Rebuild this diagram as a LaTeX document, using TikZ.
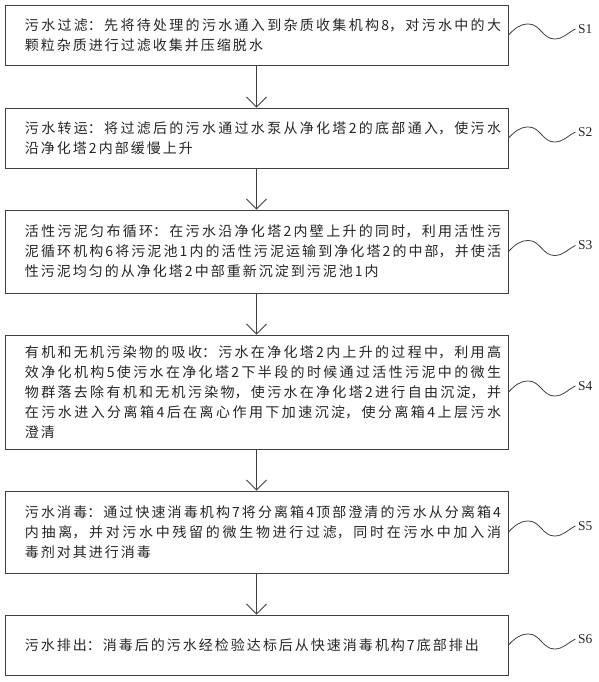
\documentclass[tikz,border=0pt]{standalone}
\usepackage{fontspec}
\setmainfont{Liberation Serif}
\newfontfamily\cjk{Noto Sans CJK SC}
\usetikzlibrary{arrows.meta}
\XeTeXlinebreaklocale "zh"
\XeTeXlinebreakskip=2pt plus 3pt minus 1pt
\begin{document}
\begin{tikzpicture}[x=1pt,y=1pt]
\tikzstyle{stepbox}=[draw=black!75, line width=0.9pt, text=black!85, font=\cjk\fontsize{14}{20}\selectfont, text width=489pt, align=justify, inner xsep=0pt, inner ysep=0pt, minimum width=503pt, execute at begin node={\leftskip=13pt\relax}]
\tikzstyle{tag}=[inner xsep=2.5pt, inner ysep=0pt, text=black!85, font=\fontsize{13.5}{16}\selectfont, anchor=west]
\tikzstyle{flow}=[draw=black!75, line width=0.8pt, -{Straight Barb[length=10pt,width=20pt]}]
\tikzstyle{wave}=[draw=black!75, line width=0.8pt]
\useasboundingbox (0,0) rectangle (599,-682);
\node [stepbox, minimum height=60pt] (s1) at (256.5,-35) {污水过滤：先将待处理的污水通入到杂质收集机构8，对污水中的大\linebreak 颗粒杂质进行过滤收集并压缩脱水};
\node [stepbox, minimum height=60pt] (s2) at (256.5,-138) {污水转运：将过滤后的污水通过水泵从净化塔2的底部通入，使污水\linebreak 沿净化塔2内部缓慢上升};
\node [stepbox, minimum height=83pt] (s3) at (256.5,-251.5) {活性污泥匀布循环：在污水沿净化塔2内壁上升的同时，利用活性污\linebreak 泥循环机构6将污泥池1内的活性污泥运输到净化塔2的中部，并使活\linebreak 性污泥均匀的从净化塔2中部重新沉淀到污泥池1内};
\node [stepbox, minimum height=114pt] (s4) at (256.5,-392) {有机和无机污染物的吸收：污水在净化塔2内上升的过程中，利用高\linebreak 效净化机构5使污水在净化塔2下半段的时候通过活性污泥中的微生\linebreak 物群落去除有机和无机污染物，使污水在净化塔2进行自由沉淀，并\linebreak 在污水进入分离箱4后在离心作用下加速沉淀，使分离箱4上层污水\linebreak 澄清};
\node [stepbox, minimum height=82pt] (s5) at (256.5,-532) {污水消毒：通过快速消毒机构7将分离箱4顶部澄清的污水从分离箱4\linebreak 内抽离，并对污水中残留的微生物进行过滤，同时在污水中加入消\linebreak 毒剂对其进行消毒};
\node [stepbox, minimum height=60pt] (s6) at (256.5,-645) {污水排出：消毒后的污水经检验达标后从快速消毒机构7底部排出};
\node [tag] (t1) at (575.5,-29) {S1};
\node [tag] (t2) at (575.5,-132) {S2};
\node [tag] (t3) at (575.5,-245.5) {S3};
\node [tag] (t4) at (575.5,-386) {S4};
\node [tag] (t5) at (575.5,-526) {S5};
\node [tag] (t6) at (575.5,-639) {S6};
\draw [flow] (s1.south) -- (s2.north);
\draw [flow] (s2.south) -- (s3.north);
\draw [flow] (s3.south) -- (s4.north);
\draw [flow] (s4.south) -- (s5.north);
\draw [flow] (s5.south) -- (s6.north);
\draw [wave] (s1.east) to[out=45,in=180] ++(20,11) to[out=0,in=180] ++(26,-15) to[out=0,in=205] (t1.west);
\draw [wave] (s2.east) to[out=45,in=180] ++(20,11) to[out=0,in=180] ++(26,-15) to[out=0,in=205] (t2.west);
\draw [wave] (s3.east) to[out=45,in=180] ++(20,11) to[out=0,in=180] ++(26,-15) to[out=0,in=205] (t3.west);
\draw [wave] (s4.east) to[out=45,in=180] ++(20,11) to[out=0,in=180] ++(26,-15) to[out=0,in=205] (t4.west);
\draw [wave] (s5.east) to[out=45,in=180] ++(20,11) to[out=0,in=180] ++(26,-15) to[out=0,in=205] (t5.west);
\draw [wave] (s6.east) to[out=45,in=180] ++(20,11) to[out=0,in=180] ++(26,-15) to[out=0,in=205] (t6.west);
\end{tikzpicture}
\end{document}
